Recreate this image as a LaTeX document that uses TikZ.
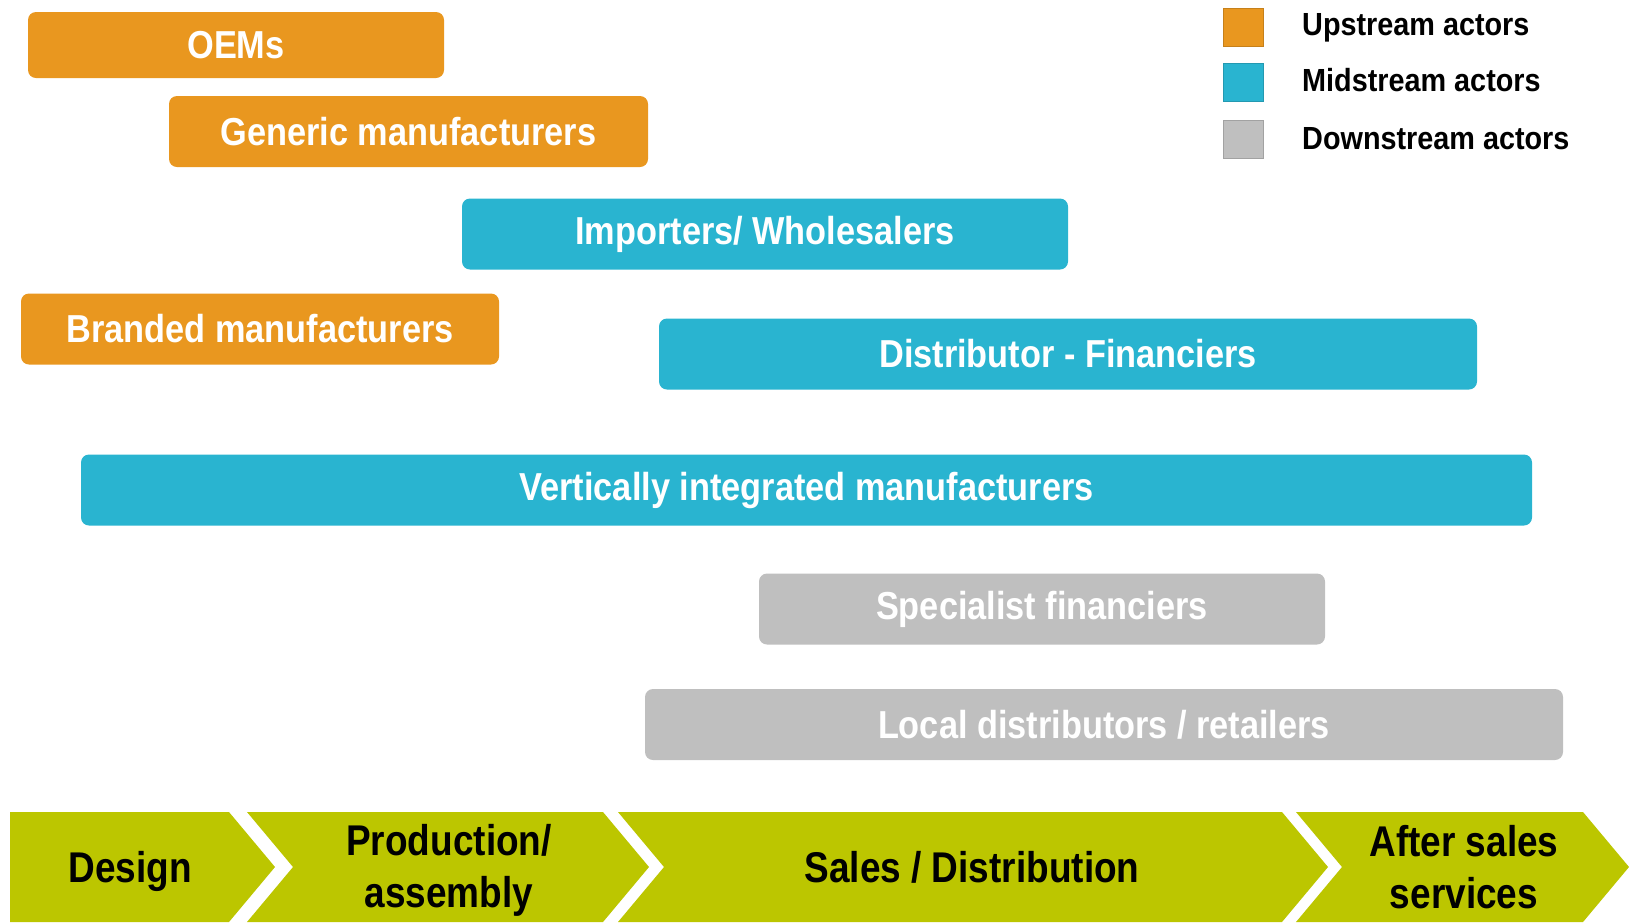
\documentclass[tikz,border=0pt]{standalone}
\usepackage{fontspec}
\newfontfamily\nar[FakeStretch=0.88]{Liberation Sans}
\newfontfamily\narl[FakeStretch=0.9]{Liberation Sans}
\newfontfamily\narc[FakeStretch=0.86]{Liberation Sans}
\definecolor{up}{RGB}{233,151,31}
\definecolor{mid}{RGB}{41,180,208}
\definecolor{down}{RGB}{191,191,191}
\definecolor{chev}{RGB}{188,198,0}
\begin{document}
\begin{tikzpicture}[x=1pt,y=-1pt,
  bar/.style={rounded corners=8pt, inner sep=0pt, text=white,
    font=\nar\bfseries\fontsize{39}{41}\selectfont, minimum height=71pt},
  upbar/.style={bar, fill=up},
  midbar/.style={bar, fill=mid},
  downbar/.style={bar, fill=down},
  chevtext/.style={text=black, align=center, inner sep=0pt,
    font=\narc\bfseries\fontsize{43}{52}\selectfont},
  legbox/.style={minimum width=40pt, minimum height=38pt, inner sep=0pt, draw=#1!85!black, line width=0.6pt, fill=#1},
  legtext/.style={anchor=west, inner sep=0pt, text=black, font=\narl\bfseries\fontsize{32}{34}\selectfont}
]
\useasboundingbox (0,0) rectangle (1629,922);
% bars
\node[upbar, minimum width=416pt, minimum height=66pt] (oem) at (236,45) {OEMs};
\node[upbar, minimum width=479pt] (gen) at (408.5,131.5) {Generic manufacturers};
\node[midbar, minimum width=606pt] (imp) at (765,234) {Importers/ Wholesalers};
\node[upbar, minimum width=478pt] (brand) at (260,329) {Branded manufacturers};
\node[midbar, minimum width=818pt] (dist) at (1068,354) {Distributor - Financiers};
\node[midbar, minimum width=1451pt] (vert) at (806.5,490) {Vertically integrated manufacturers};
\node[downbar, minimum width=566pt] (spec) at (1042,609) {Specialist financiers};
\node[downbar, minimum width=918pt] (loc) at (1104,724.5) {Local distributors / retailers};
% legend
\node[legbox=up] (lup) at (1243,27.5) {};
\node[legbox=mid] (lmid) at (1243,82.5) {};
\node[legbox=down] (ldown) at (1243,139.5) {};
\node[legtext] (tup) at (1302,28) {Upstream actors};
\node[legtext] (tmid) at (1302,80) {Midstream actors};
\node[legtext] (tdown) at (1302,139) {Downstream actors};
% chevrons
\fill[chev] (10,812) -- (229,812) -- (275,867) -- (229,922) -- (10,922) -- cycle;
\fill[chev] (247,812) -- (603,812) -- (649,867) -- (603,922) -- (247,922) -- (293,867) -- cycle;
\fill[chev] (618,812) -- (1282,812) -- (1328,867) -- (1282,922) -- (618,922) -- (664,867) -- cycle;
\fill[chev] (1296,812) -- (1583,812) -- (1629,867) -- (1583,922) -- (1296,922) -- (1342,867) -- cycle;
\node[chevtext] (c1) at (130,871) {Design};
\node[chevtext] (c2) at (449,870) {Production/\\assembly};
\node[chevtext] (c3) at (972,867) {Sales / Distribution};
\node[chevtext] (c4) at (1464,867) {After sales\\services};
\end{tikzpicture}
\end{document}
